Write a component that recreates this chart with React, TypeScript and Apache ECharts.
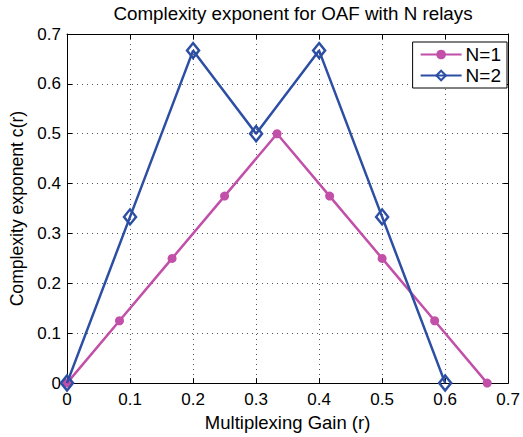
import React, { useEffect, useRef } from "react";
import * as echarts from "echarts";

const n1X = [0, 0.0833, 0.1667, 0.25, 0.3333, 0.4167, 0.5, 0.5833, 0.6667];
const n1Y = [0, 0.125, 0.25, 0.375, 0.5, 0.375, 0.25, 0.125, 0];
const n2X = [0, 0.1, 0.2, 0.3, 0.4, 0.5, 0.6];
const n2Y = [0, 0.3333, 0.6667, 0.5, 0.6667, 0.3333, 0];
const ticks = [0, 0.1, 0.2, 0.3, 0.4, 0.5, 0.6, 0.7];

const FONT = "Liberation Sans";

export default function App() {
  const ref = useRef<HTMLDivElement>(null);
  useEffect(() => {
    if (!ref.current) return;
    const chart = echarts.init(ref.current, undefined, { renderer: "svg" });
    const axisCommon = {
      type: "value" as const,
      min: 0,
      max: 0.7,
      interval: 0.1,
      axisLine: { show: true, onZero: false, lineStyle: { color: "#000", width: 1 } },
      axisTick: { show: true, inside: true, length: 5, lineStyle: { color: "#000" } },
    };
    const fmt = (v: number) => {
      const t = ticks.find((k) => Math.abs(k - v) < 1e-6);
      return t === undefined ? "" : t === 0 ? "0" : String(t);
    };
    chart.setOption({
      animation: false,
      backgroundColor: "#fff",
      textStyle: { fontFamily: FONT },
      title: {
        text: "Complexity exponent for OAF with N relays",
        left: 288,
        textAlign: "center",
        top: -1,
        textStyle: { fontFamily: FONT, fontSize: 18.8, fontWeight: "normal", color: "#000" },
      },
      legend: {
        orient: "vertical",
        right: 16,
        top: 42,
        backgroundColor: "#fff",
        borderColor: "#000",
        borderWidth: 1,
        borderRadius: 0,
        padding: [3, 6, 3, 7],
        itemWidth: 41,
        itemHeight: 12,
        itemGap: 2,
        textStyle: { fontFamily: FONT, fontSize: 19, color: "#000", padding: [0, 0, 0, -1] },
        data: ["N=1", "N=2"],
      },
      grid: { left: 67, right: 12, top: 34, bottom: 51, show: false },
      xAxis: [
        {
          ...axisCommon,
          position: "bottom",
          name: "Multiplexing Gain (r)",
          nameLocation: "middle",
          nameGap: 22,
          nameTextStyle: { fontFamily: FONT, fontSize: 18.5, color: "#000" },
          axisLabel: { color: "#000", fontSize: 17, fontFamily: FONT, margin: 8, formatter: fmt },
          splitLine: { show: true, lineStyle: { color: "#555", type: [1, 4], width: 1 } },
        },
        {
          ...axisCommon,
          position: "top",
          axisLabel: { show: false },
          splitLine: { show: false },
        },
      ],
      yAxis: [
        {
          ...axisCommon,
          position: "left",
          name: "Complexity exponent c(r)",
          nameLocation: "middle",
          nameGap: 40,
          nameTextStyle: { fontFamily: FONT, fontSize: 17.6, color: "#000" },
          axisLabel: { color: "#000", fontSize: 17, fontFamily: FONT, margin: 6, formatter: fmt },
          splitLine: { show: true, lineStyle: { color: "#555", type: [1, 4], width: 1 } },
        },
        {
          ...axisCommon,
          position: "right",
          axisLabel: { show: false },
          splitLine: { show: false },
        },
      ],
      series: [
        {
          name: "N=1",
          type: "line",
          data: n1X.map((x, i) => [x, n1Y[i]]),
          symbol: "circle",
          symbolSize: 9,
          showAllSymbol: true,
          color: "#c24fa8",
          lineStyle: { width: 2.5, color: "#c24fa8" },
          itemStyle: { color: "#c24fa8" },
          z: 2,
        },
        {
          name: "N=2",
          type: "line",
          data: n2X.map((x, i) => [x, n2Y[i]]),
          symbol: "diamond",
          symbolSize: [12, 15],
          showAllSymbol: true,
          color: "#2c4ea3",
          lineStyle: { width: 2.5, color: "#2c4ea3" },
          itemStyle: { color: "rgba(255,255,255,0)", borderColor: "#2c4ea3", borderWidth: 2.5 },
          z: 3,
        },
      ],
    });
    return () => chart.dispose();
  }, []);
  return (
    <div
      ref={ref}
      style={{ width: 523, height: 437, position: "absolute", left: 0, top: 0 }}
    />
  );
}
